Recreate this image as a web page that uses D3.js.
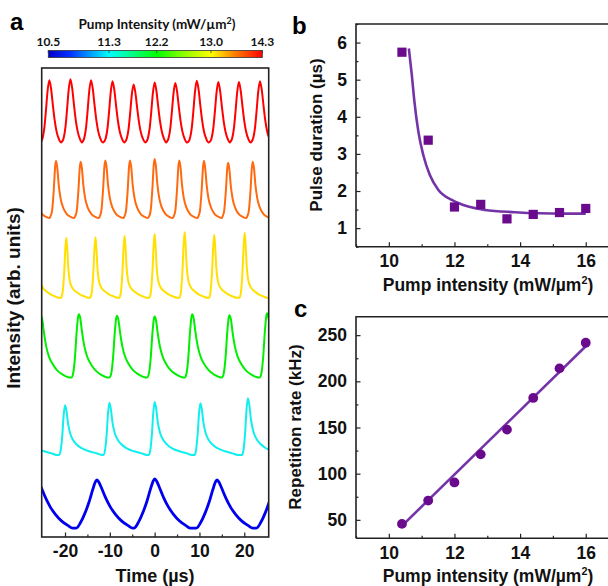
<!DOCTYPE html>
<html>
<head>
<meta charset="utf-8">
<script src="https://cdn.jsdelivr.net/npm/d3@7"></script>
<style>
  body { margin: 0; background: #fff; }
  text { font-family: "Liberation Sans", Arial, sans-serif; font-weight: bold; }
  .cb text { font-family: Lato, "Open Sans", sans-serif; }
</style>
</head>
<body>
<div id="chart"></div>
<script>
// pump intensities of the six traces (colour bar)
var cbar_values = [10.5, 11.3, 12.2, 13.0, 14.3];
var cbar_labels = ['10.5', '11.3', '12.2', '13.0', '14.3'];

// panel a: traces, bottom to top
var trace_colors = ['#0000ee', '#11eeee', '#00ee00', '#ffe000', '#ff6a10', '#ff0000'];
var trace_baselines = [1.9, 17.5, 34.0, 51.0, 68.0, 84.0];
var trace_peaks = [
  [-26.3, -12.9, 0, 13.9, 27.3],
  [-30.2, -20, -10.1, 0, 10.2, 20.8, 31],
  [-25.4, -16.9, -8.4, 0, 8.4, 16.7, 25.1],
  [-26.3, -19.7, -13.2, -6.7, 0, 6.7, 13.3, 20.1, 26.8],
  [-27.5, -22, -16.5, -11, -5.5, 0, 5.5, 11, 16.4, 21.9, 27.4],
  [-28.2, -23.5, -18.8, -14.2, -9.4, -4.7, 0, 4.6, 9.4, 14.2, 18.8, 23.5, 28.2]
];
var trace_heights = [
  [12.2, 12.2, 12.4, 12.2, 12.2],
  [28.5, 28.1, 28.6, 28.8, 28.5, 29.6, 28.5],
  [47.3, 47.5, 47.2, 47.0, 47.5, 47.3, 47.7],
  [64.2, 63.8, 63.9, 64.2, 64.6, 65.0, 64.4, 64.8, 64.5],
  [80.2, 80.2, 80.0, 80.3, 80.3, 80.6, 80.3, 80.2, 79.8, 80.0, 80.0],
  [97.2, 97.4, 97.6, 97.4, 97.2, 96.5, 96.9, 96.8, 97.3, 97.0, 97.0, 97.2, 97.2]
];
// pulse shape of each trace: [time from peak (us), fraction of peak height]
var trace_shapes = [
  [[-4.6, 0], [-3.6, 0.12], [-2.6, 0.32], [-1.7, 0.55], [-0.9, 0.8], [-0.35, 0.95], [0, 1], [0.4, 0.96], [1.0, 0.84],
   [2.0, 0.62], [3.0, 0.44], [4.2, 0.28], [5.5, 0.15], [7.0, 0.05], [8.0, 0]],
  [[-1.3, 0], [-0.95, 0.1], [-0.6, 0.4], [-0.3, 0.8], [0, 1], [0.3, 0.9], [0.7, 0.62], [1.2, 0.42], [1.8, 0.3],
   [2.6, 0.21], [3.8, 0.13], [5.5, 0.07], [7.2, 0.03], [8.3, 0]],
  [[-1.7, 0], [-1.3, 0.06], [-0.9, 0.3], [-0.5, 0.72], [-0.2, 0.95], [0, 1], [0.3, 0.94], [0.7, 0.72], [1.2, 0.5],
   [1.8, 0.34], [2.6, 0.22], [3.6, 0.12], [4.6, 0.06], [5.6, 0.02], [6.4, 0]],
  [[-1.2, 0], [-0.85, 0.08], [-0.5, 0.4], [-0.2, 0.85], [0, 1], [0.2, 0.82], [0.45, 0.48], [0.8, 0.27], [1.3, 0.17],
   [2.2, 0.1], [3.2, 0.05], [4.2, 0.02], [5.0, 0]],
  [[-1.3, 0.02], [-0.9, 0.12], [-0.5, 0.5], [-0.2, 0.9], [0, 1], [0.25, 0.9], [0.6, 0.58], [1.0, 0.35], [1.6, 0.18],
   [2.4, 0.07], [3.3, 0.02], [4.0, 0]],
  [[-1.9, 0.02], [-1.5, 0.08], [-1.1, 0.25], [-0.75, 0.52], [-0.4, 0.82], [0, 1], [0.4, 0.86], [0.8, 0.6],
   [1.2, 0.36], [1.6, 0.19], [2.1, 0.07], [2.6, 0.01]]
];

// panels b and c
var pump = [10.4, 11.2, 12.0, 12.8, 13.6, 14.4, 15.2, 16.0];
var pulse_duration = [5.74, 3.37, 1.57, 1.64, 1.25, 1.37, 1.42, 1.53];
var duration_fit = [[10.61, 5.84], [10.70, 5.13], [10.78, 4.41], [10.90, 3.60], [11.05, 2.97], [11.25, 2.43],
                    [11.51, 2.03], [11.92, 1.76], [12.42, 1.58], [12.93, 1.49], [13.84, 1.43], [14.6, 1.40],
                    [15.3, 1.39], [16.0, 1.39]];
var rep_rate = [45.6, 70.9, 90.5, 120.9, 147.7, 182, 214, 241.8];
var rate_fit = [[10.4, 43.5], [16.0, 238]];

var width = 608, height = 586;
var svg = d3.select('#chart').append('svg')
  .attr('width', width)
  .attr('height', height);

var purple = '#6a0a8c', purple_line = '#7434a8';

function minus_fmt(d) { return d < 0 ? '-' + Math.abs(d) : String(d); }

function inward(axis_fn, scale, major, minor, fmt, padding) {
  return [
    axis_fn(scale).tickValues(minor).tickSize(-2.5).tickFormat(''),
    axis_fn(scale).tickValues(major).tickSize(-4.5).tickPadding(padding).tickFormat(fmt)
  ];
}

function draw_axis(g, axes, font) {
  axes.forEach(function(a) {
    var ax = g.append('g').call(a);
    ax.select('.domain').remove();
    ax.selectAll('line').attr('stroke', '#222').attr('stroke-width', 1.2);
    ax.selectAll('text').attr('font-size', font).attr('fill', '#111')
      .attr('font-family', '"Liberation Sans", Arial, sans-serif').attr('font-weight', 'bold');
  });
}

function label_with_sup(g, x, y, rot, size, main, sup, tail) {
  var t = g.append('text')
    .attr('x', x).attr('y', y)
    .attr('text-anchor', 'middle')
    .attr('font-size', size)
    .attr('fill', '#111');
  if (rot) t.attr('transform', 'rotate(-90,' + x + ',' + y + ')');
  t.append('tspan').text(main);
  if (sup) {
    t.append('tspan').attr('font-size', size * 0.62).attr('dy', -size * 0.4).text(sup);
    t.append('tspan').attr('dy', size * 0.4).text(tail);
  }
  return t;
}

// ---------- panel a ----------
var ax_x = d3.scaleLinear().domain([-25.2, 25.45]).range([41.7, 268.7]);
var ax_y = d3.scaleLinear().domain([0, 100]).range([537, 68]);

svg.append('text').attr('x', 10).attr('y', 30).attr('font-size', 24).text('a');

// colour bar
var cb = svg.append('g').attr('class', 'cb');
var cb_x = d3.scaleLinear().domain(cbar_values).range([48.3, 109, 156.7, 211, 262.3]);
var grad = svg.append('defs').append('linearGradient').attr('id', 'jet')
  .attr('x1', '0%').attr('x2', '100%').attr('y1', '0%').attr('y2', '0%');
[[0, '#0000c8'], [0.1, '#0030ff'], [0.285, '#00ffff'], [0.508, '#00ff00'], [0.62, '#80ff00'],
 [0.761, '#ffff00'], [0.87, '#ff8000'], [1, '#ff0000']].forEach(function(s) {
  grad.append('stop').attr('offset', s[0]).attr('stop-color', s[1]);
});
cb.append('rect')
  .attr('x', cb_x(10.5)).attr('y', 50.5)
  .attr('width', cb_x(14.3) - cb_x(10.5)).attr('height', 7)
  .attr('fill', 'url(#jet)').attr('stroke', '#333').attr('stroke-width', 0.8);
cb.selectAll('line.cbt').data(cbar_values).enter().append('line')
  .attr('x1', function(d) { return cb_x(d); }).attr('x2', function(d) { return cb_x(d); })
  .attr('y1', 50.5).attr('y2', 53).attr('stroke', '#333').attr('stroke-width', 0.8);
cb.selectAll('text.cbl').data(cbar_values).enter().append('text')
  .attr('x', function(d) { return cb_x(d); })
  .attr('y', 46)
  .attr('text-anchor', 'middle')
  .attr('font-size', 12)
  .attr('fill', '#111')
  .text(function(d, i) { return cbar_labels[i]; });
var cbt = cb.append('text').attr('x', 157).attr('y', 29).attr('text-anchor', 'middle')
  .attr('font-size', 13.5).attr('fill', '#111');
cbt.append('tspan').text('Pump Intensity  (mW/\u00b5m');
cbt.append('tspan').attr('font-size', 9).attr('dy', -5.5).text('2');
cbt.append('tspan').attr('dy', 5.5).text(')');

svg.append('defs').append('clipPath').attr('id', 'clip-a')
  .append('rect').attr('x', 41.7).attr('y', 68).attr('width', 227).attr('height', 469);

var trace_line = d3.line()
  .x(function(d) { return ax_x(d[0]); })
  .y(function(d) { return ax_y(d[1]); })
  .curve(d3.curveMonotoneX);

var traces = trace_peaks.map(function(peaks, k) {
  var pts = [], base = trace_baselines[k];
  peaks.forEach(function(tp, j) {
    var amp = trace_heights[k][j] - base;
    trace_shapes[k].forEach(function(s) {
      var t = tp + s[0];
      if (pts.length && t <= pts[pts.length - 1][0]) return;
      pts.push([t, base + amp * s[1]]);
    });
  });
  return pts;
});

svg.append('g').attr('clip-path', 'url(#clip-a)')
  .selectAll('path')
  .data(traces)
  .enter().append('path')
  .attr('d', trace_line)
  .attr('fill', 'none')
  .attr('stroke', function(d, i) { return trace_colors[i]; })
  .attr('stroke-width', function(d, i) { return i === 0 ? 2.8 : 2; })
  .attr('stroke-linejoin', 'round');

var ga = svg.append('g').attr('transform', 'translate(0,537)');
draw_axis(ga, inward(d3.axisBottom, ax_x, [-20, -10, 0, 10, 20], [-15, -5, 5, 15], minus_fmt, 8), 17.5);

svg.append('rect').attr('x', 41.7).attr('y', 68).attr('width', 227).attr('height', 469)
  .attr('fill', 'none').attr('stroke', '#222').attr('stroke-width', 1.6);

label_with_sup(svg, 20, 298, true, 19, 'Intensity (arb. units)');
label_with_sup(svg, 155, 582, false, 18, 'Time (\u00b5s)');

// ---------- panel b ----------
var bx = d3.scaleLinear().domain([9, 16.8]).range([356, 612]);
var by = d3.scaleLinear().domain([0.5, 6.5]).range([246.7, 24]);

svg.append('text').attr('x', 292).attr('y', 34).attr('font-size', 24).text('b');

var gbx = svg.append('g').attr('transform', 'translate(0,246.7)');
draw_axis(gbx, inward(d3.axisBottom, bx, [10, 12, 14, 16], [9, 11, 13, 15], d3.format('d'), 8), 17.5);
var gby = svg.append('g').attr('transform', 'translate(356,0)');
draw_axis(gby, inward(d3.axisLeft, by, [1, 2, 3, 4, 5, 6], [0.5, 1.5, 2.5, 3.5, 4.5, 5.5, 6.5], d3.format('d'), 9), 17.5);

svg.append('path')
  .datum(duration_fit)
  .attr('d', d3.line().x(function(d) { return bx(d[0]); }).y(function(d) { return by(d[1]); }).curve(d3.curveMonotoneX))
  .attr('fill', 'none').attr('stroke', purple_line).attr('stroke-width', 2.6);

svg.selectAll('rect.sq').data(pump).enter().append('rect')
  .attr('class', 'sq')
  .attr('x', function(d) { return bx(d) - 4.6; })
  .attr('y', function(d, i) { return by(pulse_duration[i]) - 4.6; })
  .attr('width', 9.2).attr('height', 9.2)
  .attr('fill', purple);

svg.append('path').attr('d', 'M356,246.7V24H612')
  .attr('fill', 'none').attr('stroke', '#222').attr('stroke-width', 1.6);
svg.append('line').attr('x1', 356).attr('x2', 612).attr('y1', 246.7).attr('y2', 246.7)
  .attr('stroke', '#222').attr('stroke-width', 1.6);

label_with_sup(svg, 322, 135, true, 17, 'Pulse duration (\u00b5s)');
label_with_sup(svg, 488, 291, false, 17.5, 'Pump intensity (mW/\u00b5m', '2', ')');

// ---------- panel c ----------
var cx = d3.scaleLinear().domain([9, 16.8]).range([356, 612]);
var cy = d3.scaleLinear().domain([30, 270]).range([538.3, 316.7]);

svg.append('text').attr('x', 294).attr('y', 317).attr('font-size', 24).text('c');

var gcx = svg.append('g').attr('transform', 'translate(0,538.3)');
draw_axis(gcx, inward(d3.axisBottom, cx, [10, 12, 14, 16], [9, 11, 13, 15], d3.format('d'), 8), 17.5);
var gcy = svg.append('g').attr('transform', 'translate(356,0)');
draw_axis(gcy, inward(d3.axisLeft, cy, [50, 100, 150, 200, 250], [75, 125, 175, 225], d3.format('d'), 9), 17.5);

svg.append('path')
  .datum(rate_fit)
  .attr('d', d3.line().x(function(d) { return cx(d[0]); }).y(function(d) { return cy(d[1]); }))
  .attr('fill', 'none').attr('stroke', purple_line).attr('stroke-width', 2.6);

svg.selectAll('circle.pt').data(pump).enter().append('circle')
  .attr('class', 'pt')
  .attr('cx', function(d) { return cx(d); })
  .attr('cy', function(d, i) { return cy(rep_rate[i]); })
  .attr('r', 4.9)
  .attr('fill', purple);

svg.append('path').attr('d', 'M356,538.3V316.7H612')
  .attr('fill', 'none').attr('stroke', '#222').attr('stroke-width', 1.6);
svg.append('line').attr('x1', 356).attr('x2', 612).attr('y1', 538.3).attr('y2', 538.3)
  .attr('stroke', '#222').attr('stroke-width', 1.6);

label_with_sup(svg, 301, 427, true, 17, 'Repetition rate (kHz)');
label_with_sup(svg, 488, 582, false, 17.5, 'Pump intensity (mW/\u00b5m', '2', ')');
</script>
</body>
</html>
